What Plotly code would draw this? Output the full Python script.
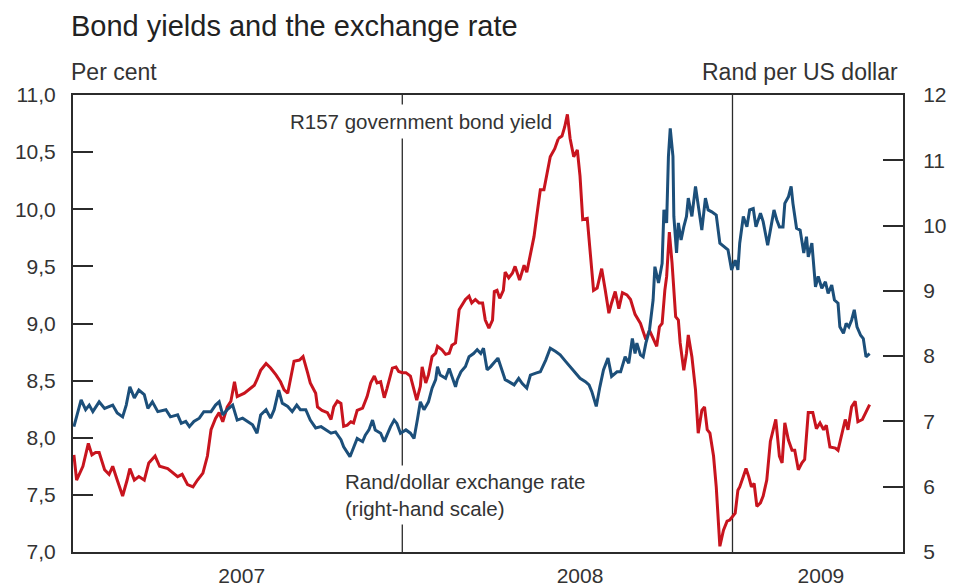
import pandas as pd
import plotly.graph_objects as go

# ---- data ----
start_date = pd.Timestamp("2007-01-01")

# R157 government bond yield (per cent), left-hand scale; x = days since 2007-01-01
bond_days = [1, 4, 11, 17, 21, 25, 29, 35, 40, 44, 49, 55, 60, 63, 68, 73, 79, 84, 91, 96,
             105, 110, 116, 121, 127, 133, 138, 144, 149, 153, 158, 162, 166, 171, 175, 179, 182, 190, 195, 201,
             204, 208, 214, 219, 225, 230, 234, 238, 241, 245, 251, 255, 260, 263, 269, 271, 276, 282, 286, 289,
             293, 297, 300, 304, 308, 311, 315, 321, 326, 330, 334, 337, 341, 345, 348, 354, 358, 361, 365, 369,
             374, 378, 381, 385, 387, 391, 394, 398, 402, 404, 409, 413, 417, 420, 424, 428, 431, 435, 439, 442,
             446, 450, 454, 457, 461, 465, 467, 470, 473, 477, 479, 483, 487, 490, 495, 500, 503, 507, 511, 514,
             518, 522, 525, 529, 534, 538, 542, 545, 548, 551, 555, 559, 562, 565, 570, 573, 577, 581, 586, 590,
             594, 597, 601, 605, 609, 614, 618, 623, 629, 632, 635, 639, 644, 647, 650, 653, 656, 658, 661, 664,
             668, 671, 673, 677, 680, 682, 686, 690, 693, 697, 700, 703, 706, 710, 713, 715, 717, 721, 725, 728,
             730, 734, 737, 739, 743, 746, 749, 752, 755, 758, 762, 765, 769, 773, 779, 783, 786, 789, 793, 797,
             800, 804, 808, 811, 815, 820, 824, 828, 832, 835, 839, 845, 848, 852, 856, 859, 863, 867, 870, 875,
             880, 883]
bond_yield = [7.85, 7.63, 7.75, 7.95, 7.85, 7.87, 7.87, 7.72, 7.68, 7.75, 7.63, 7.49, 7.63, 7.73, 7.63, 7.66, 7.63, 7.78, 7.84, 7.75,
              7.73, 7.70, 7.66, 7.68, 7.59, 7.57, 7.63, 7.69, 7.84, 8.07, 8.17, 8.22, 8.14, 8.27, 8.32, 8.49, 8.36, 8.39, 8.42, 8.46,
              8.51, 8.59, 8.65, 8.61, 8.55, 8.49, 8.42, 8.39, 8.51, 8.67, 8.68, 8.71, 8.57, 8.48, 8.39, 8.27, 8.24, 8.22, 8.16, 8.27,
              8.32, 8.30, 8.10, 8.11, 8.14, 8.13, 8.24, 8.26, 8.36, 8.48, 8.54, 8.48, 8.49, 8.35, 8.43, 8.61, 8.62, 8.58, 8.57, 8.57,
              8.54, 8.42, 8.33, 8.45, 8.62, 8.48, 8.55, 8.71, 8.74, 8.80, 8.77, 8.73, 8.74, 8.81, 8.83, 9.12, 9.16, 9.21, 9.24, 9.18,
              9.21, 9.18, 9.18, 9.03, 8.96, 9.03, 9.28, 9.29, 9.22, 9.29, 9.45, 9.40, 9.44, 9.50, 9.38, 9.51, 9.45, 9.62, 9.76, 9.94,
              10.17, 10.17, 10.29, 10.46, 10.53, 10.62, 10.64, 10.72, 10.83, 10.62, 10.46, 10.52, 10.29, 9.91, 9.92, 9.62, 9.29, 9.31, 9.48, 9.29,
              9.09, 9.18, 9.28, 9.13, 9.27, 9.25, 9.21, 9.08, 9.00, 8.93, 8.86, 8.94, 8.86, 8.80, 8.97, 9.00, 9.29, 9.41, 9.80, 9.53,
              9.06, 9.03, 8.83, 8.59, 8.74, 8.90, 8.71, 8.42, 8.04, 8.24, 8.27, 8.07, 8.04, 7.84, 7.57, 7.28, 7.05, 7.19, 7.27, 7.28,
              7.30, 7.34, 7.54, 7.57, 7.66, 7.73, 7.66, 7.57, 7.60, 7.40, 7.43, 7.49, 7.63, 7.97, 8.16, 7.84, 7.78, 8.13, 7.98, 7.89,
              7.89, 7.72, 7.78, 7.81, 8.22, 8.22, 8.08, 8.13, 8.07, 8.11, 7.92, 7.91, 7.89, 8.04, 8.16, 8.07, 8.27, 8.32, 8.14, 8.16,
              8.24, 8.29]

# Rand per US dollar, right-hand scale; x = days since 2007-01-01
fx_days = [1, 9, 14, 18, 22, 29, 35, 44, 49, 55, 59, 63, 68, 73, 79, 83, 88, 94, 103, 108,
           116, 120, 125, 129, 134, 140, 145, 153, 158, 162, 166, 171, 177, 182, 188, 193, 199, 204, 208, 214,
           219, 223, 228, 232, 238, 243, 248, 252, 258, 263, 269, 275, 280, 286, 291, 297, 300, 307, 315, 321,
           324, 328, 332, 335, 341, 345, 348, 352, 356, 359, 363, 369, 374, 378, 382, 385, 389, 394, 398, 402,
           404, 407, 413, 417, 420, 424, 426, 430, 435, 439, 444, 448, 452, 455, 459, 463, 471, 476, 479, 483,
           489, 494, 498, 503, 507, 513, 518, 524, 529, 535, 540, 546, 551, 557, 562, 568, 572, 575, 580, 584,
           588, 593, 597, 603, 607, 612, 616, 620, 623, 625, 629, 632, 635, 639, 643, 645, 649, 653, 655, 658,
           660, 662, 665, 666, 669, 671, 674, 677, 680, 682, 686, 690, 693, 697, 701, 704, 708, 713, 717, 721,
           726, 730, 734, 737, 739, 743, 747, 750, 754, 757, 762, 765, 770, 773, 777, 780, 783, 787, 789, 793,
           796, 798, 802, 806, 810, 813, 815, 819, 823, 826, 830, 834, 837, 841, 844, 848, 850, 854, 857, 860,
           863, 866, 869, 873, 876, 879, 883]
rand_per_usd = [6.92, 7.33, 7.18, 7.25, 7.15, 7.30, 7.20, 7.25, 7.13, 7.07, 7.25, 7.53, 7.36, 7.48, 7.41, 7.20, 7.30, 7.15, 7.18, 7.07,
                7.10, 6.97, 7.00, 6.92, 7.00, 7.05, 7.15, 7.15, 7.25, 7.30, 7.10, 7.18, 7.25, 7.02, 7.05, 7.00, 6.95, 6.82, 7.10, 7.18,
                7.05, 7.18, 7.48, 7.28, 7.23, 7.15, 7.25, 7.18, 7.18, 7.02, 6.90, 6.92, 6.87, 6.82, 6.84, 6.72, 6.61, 6.46, 6.74, 6.69,
                6.79, 6.87, 7.02, 6.87, 6.82, 6.69, 6.79, 6.92, 7.02, 6.97, 6.82, 6.87, 6.82, 6.74, 7.05, 7.30, 7.18, 7.30, 7.51, 7.64,
                7.84, 7.71, 7.66, 7.81, 7.69, 7.53, 7.64, 7.76, 7.84, 7.99, 8.04, 8.10, 8.04, 8.12, 7.79, 7.84, 7.97, 7.76, 7.64, 7.61,
                7.56, 7.66, 7.58, 7.51, 7.71, 7.74, 7.76, 7.94, 8.12, 8.07, 8.02, 7.92, 7.84, 7.74, 7.66, 7.61, 7.56, 7.46, 7.23, 7.53,
                7.79, 7.97, 7.69, 7.76, 7.76, 7.99, 7.89, 8.27, 8.04, 8.20, 8.02, 7.99, 8.20, 8.40, 8.86, 9.37, 9.12, 9.42, 10.24, 10.04,
                11.06, 11.49, 11.06, 10.14, 9.58, 10.04, 9.78, 9.98, 10.14, 10.42, 10.14, 10.60, 10.34, 9.93, 10.42, 10.24, 10.21, 10.16, 9.73, 9.68,
                9.63, 9.32, 9.47, 9.32, 9.73, 10.14, 9.98, 10.24, 10.26, 9.98, 10.19, 10.06, 9.70, 9.93, 10.24, 10.09, 9.98, 9.98, 10.34, 10.44,
                10.60, 10.34, 9.96, 9.93, 9.58, 9.83, 9.52, 9.73, 9.06, 9.22, 9.04, 9.14, 8.96, 9.09, 8.86, 8.81, 8.45, 8.35, 8.50, 8.45,
                8.55, 8.71, 8.45, 8.32, 8.27, 7.99, 8.04]

year_labels = ["2007", "2008", "2009"]
year_label_dates = ["2007-07-07", "2008-07-16", "2009-04-09"]
year_boundaries = ["2008-01-01", "2009-01-01"]
x_range = ["2007-01-01", "2009-07-09"]

bond_dates = start_date + pd.to_timedelta(bond_days, unit="D")
fx_dates = start_date + pd.to_timedelta(fx_days, unit="D")

RED = "#c8141e"
BLUE = "#1c4f7a"
INK = "#2b2b2b"
TXT = "#333333"
FONT = "Liberation Sans"

fig = go.Figure()
fig.add_trace(go.Scatter(x=bond_dates, y=bond_yield, mode="lines", name="R157 government bond yield",
                         line=dict(color=RED, width=3), yaxis="y"))
fig.add_trace(go.Scatter(x=fx_dates, y=rand_per_usd, mode="lines", name="Rand/dollar exchange rate",
                         line=dict(color=BLUE, width=3), yaxis="y2"))

for d in year_boundaries:
    fig.add_shape(type="line", xref="x", yref="paper", x0=d, x1=d, y0=0, y1=1,
                  line=dict(color=INK, width=1.3), layer="below")

axis_font = dict(family=FONT, size=21, color=TXT)

fig.update_layout(
    width=956, height=587,
    margin=dict(l=73, r=53, t=95, b=35),
    paper_bgcolor="white", plot_bgcolor="white",
    showlegend=False,
    separators=", ",
    font=dict(family=FONT, color=TXT),
    xaxis=dict(type="date", range=x_range, showgrid=False, zeroline=False,
               showline=True, mirror=True, linecolor=INK, linewidth=2,
               tickmode="array", tickvals=year_label_dates, ticktext=year_labels,
               ticks="", tickfont=axis_font, ticklabelstandoff=4, automargin=False),
    yaxis=dict(range=[7, 11], dtick=0.5, tick0=7, tickformat=".1f", showgrid=False, zeroline=False,
               showline=True, linecolor=INK, linewidth=2, ticks="inside", ticklen=20, tickwidth=2,
               tickcolor=INK, tickfont=axis_font, ticklabelstandoff=11, automargin=False),
    yaxis2=dict(range=[5, 12], dtick=1, tick0=5, overlaying="y", side="right", showgrid=False, zeroline=False,
                showline=True, linecolor=INK, linewidth=2, ticks="inside", ticklen=20, tickwidth=2,
                tickcolor=INK, tickfont=axis_font, ticklabelstandoff=14, automargin=False),
)

fig.add_annotation(text="Bond yields and the exchange rate", xref="paper", yref="paper",
                   x=-0.005, y=1.15, xanchor="left", yanchor="middle", showarrow=False,
                   font=dict(family=FONT, size=29, color="#222222"))
fig.add_annotation(text="Per cent", xref="paper", yref="paper", x=-0.005, y=1.05,
                   xanchor="left", yanchor="middle", showarrow=False,
                   font=dict(family=FONT, size=23, color=TXT))
fig.add_annotation(text="Rand per US dollar", xref="paper", yref="paper", x=0.9965, y=1.05,
                   xanchor="right", yanchor="middle", showarrow=False,
                   font=dict(family=FONT, size=23, color=TXT))
fig.add_annotation(text="R157 government bond yield", xref="paper", yref="paper", x=0.4195, y=0.941,
                   xanchor="center", yanchor="middle", showarrow=False, bgcolor="white", borderpad=5,
                   font=dict(family=FONT, size=20.5, color=TXT))
fig.add_annotation(text="Rand/dollar exchange rate<br>(right-hand scale)", xref="paper", yref="paper",
                   x=0.322, y=0.124, xanchor="left", yanchor="middle", align="left", showarrow=False,
                   bgcolor="white", borderpad=4,
                   font=dict(family=FONT, size=20.5, color=TXT))

fig.write_html("out.html", config={"displayModeBar": False},
               post_script="document.body.style.margin='0px';")
